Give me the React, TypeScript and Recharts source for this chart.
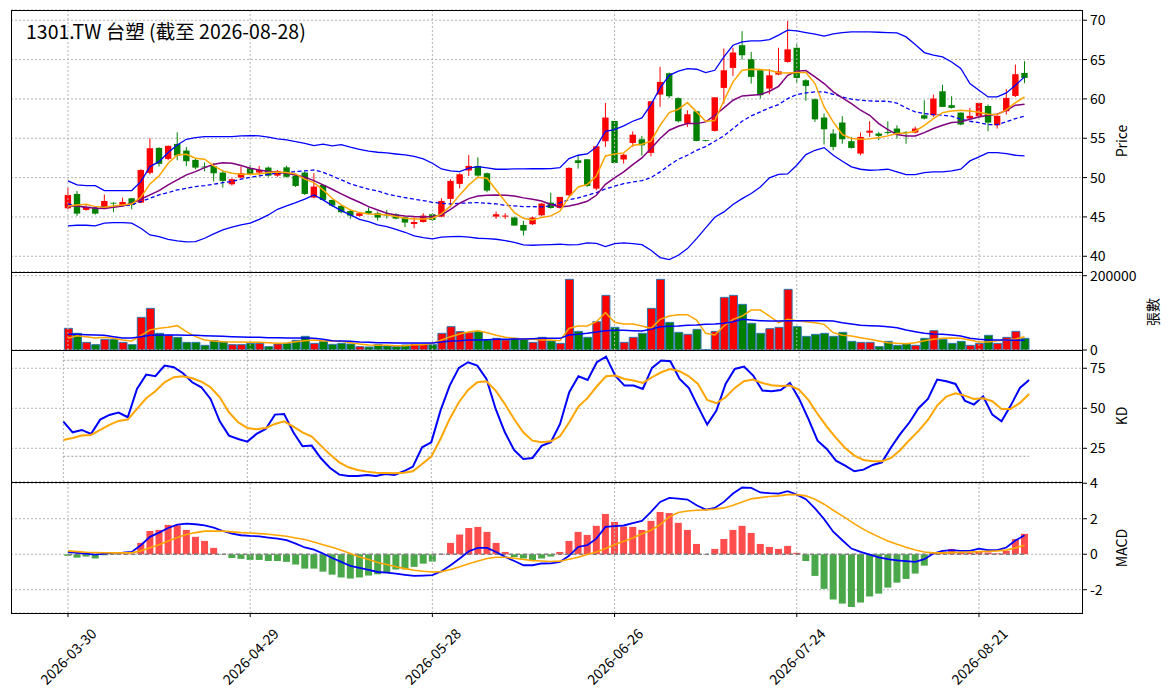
import { ComposedChart, Bar, Line, XAxis, YAxis, CartesianGrid, ReferenceLine, Cell } from "recharts";

// trading days (TWSE calendar, holidays skipped)
const dates = [
  "2026-03-30", "2026-03-31", "2026-04-01", "2026-04-02", "2026-04-07", "2026-04-08", "2026-04-09", "2026-04-10",
  "2026-04-13", "2026-04-14", "2026-04-15", "2026-04-16", "2026-04-17", "2026-04-20", "2026-04-21", "2026-04-22",
  "2026-04-23", "2026-04-24", "2026-04-27", "2026-04-28", "2026-04-29", "2026-04-30", "2026-05-04", "2026-05-05",
  "2026-05-06", "2026-05-07", "2026-05-08", "2026-05-11", "2026-05-12", "2026-05-13", "2026-05-14", "2026-05-15",
  "2026-05-18", "2026-05-19", "2026-05-20", "2026-05-21", "2026-05-22", "2026-05-25", "2026-05-26", "2026-05-27",
  "2026-05-28", "2026-05-29", "2026-06-01", "2026-06-02", "2026-06-03", "2026-06-04", "2026-06-05", "2026-06-08",
  "2026-06-09", "2026-06-10", "2026-06-11", "2026-06-12", "2026-06-15", "2026-06-16", "2026-06-17", "2026-06-18",
  "2026-06-22", "2026-06-23", "2026-06-24", "2026-06-25", "2026-06-26", "2026-06-29", "2026-06-30", "2026-07-01",
  "2026-07-02", "2026-07-03", "2026-07-06", "2026-07-07", "2026-07-08", "2026-07-09", "2026-07-10", "2026-07-13",
  "2026-07-14", "2026-07-15", "2026-07-16", "2026-07-17", "2026-07-20", "2026-07-21", "2026-07-22", "2026-07-23",
  "2026-07-24", "2026-07-27", "2026-07-28", "2026-07-29", "2026-07-30", "2026-07-31", "2026-08-03", "2026-08-04",
  "2026-08-05", "2026-08-06", "2026-08-07", "2026-08-10", "2026-08-11", "2026-08-12", "2026-08-13", "2026-08-14",
  "2026-08-17", "2026-08-18", "2026-08-19", "2026-08-20", "2026-08-21", "2026-08-24", "2026-08-25", "2026-08-26",
  "2026-08-27", "2026-08-28",
];

const opens = [
  46.1, 47.92, 45.89, 46.1, 46.1, 46.8, 46.48, 47.37, 46.82, 50.6,
  53.77, 52.37, 54.28, 53.43, 52.25, 51.4, 51.48, 50.64, 49.15, 50.0,
  51.19, 50.64, 51.27, 50.25, 51.3, 50.25, 50.64, 47.46, 49.07, 47.16,
  46.4, 45.76, 45.13, 45.76, 45.47, 45.3, 45.34, 44.96, 44.1, 44.36,
  45.34, 45.04, 47.29, 49.2, 50.9, 51.48, 50.55, 45.04, 45.04, 44.92,
  43.98, 44.07, 45.21, 46.82, 46.14, 47.75, 52.2, 52.33, 48.6, 54.62,
  57.2, 52.3, 54.4, 54.87, 53.14, 60.55, 63.26, 60.1, 56.86, 58.43,
  54.75, 55.93, 61.4, 63.94, 66.82, 65.04, 63.64, 61.31, 63.1, 64.7,
  66.5, 62.37, 59.96, 57.63, 55.6, 57.0, 54.62, 53.05, 55.7, 55.6,
  55.8, 56.23, 55.8, 55.72, 57.92, 57.92, 60.97, 59.2, 58.26, 57.5,
  57.8, 59.1, 56.65, 58.43, 60.38, 63.3,
];
const highs = [
  48.73, 48.3, 46.53, 46.3, 47.84, 46.85, 47.45, 47.4, 51.06, 55.0,
  53.86, 54.1, 55.76, 53.9, 52.46, 51.9, 51.82, 50.97, 49.9, 51.4,
  51.6, 51.48, 51.4, 50.97, 51.5, 50.3, 50.76, 50.55, 49.07, 47.2,
  46.5, 45.97, 45.55, 46.2, 45.68, 45.9, 45.47, 45.04, 45.04, 45.47,
  45.47, 47.37, 49.79, 50.55, 52.88, 52.58, 50.64, 45.68, 45.47, 45.04,
  44.5, 45.04, 46.78, 48.09, 47.54, 51.3, 52.84, 52.33, 53.98, 59.49,
  57.2, 53.05, 55.87, 55.3, 59.7, 64.07, 63.35, 60.2, 58.56, 58.43,
  54.8, 60.2, 66.4, 66.5, 68.6, 65.97, 63.64, 63.77, 66.5, 69.9,
  66.95, 62.5, 60.04, 58.14, 56.14, 57.8, 55.17, 55.72, 57.16, 55.8,
  57.16, 56.65, 55.9, 56.48, 59.83, 60.55, 61.8, 60.34, 58.26, 58.86,
  59.49, 59.28, 57.92, 61.23, 64.36, 64.8,
];
const lows = [
  45.97, 45.13, 45.8, 45.3, 45.97, 45.6, 46.4, 45.97, 46.74, 50.4,
  51.4, 52.2, 52.2, 51.44, 51.06, 50.8, 49.5, 48.73, 48.99, 49.9,
  50.34, 50.34, 50.1, 50.1, 50.0, 48.8, 47.8, 47.37, 47.08, 46.3,
  45.47, 44.75, 45.04, 45.3, 44.53, 44.8, 44.7, 43.69, 43.56, 44.28,
  44.5, 44.96, 46.23, 48.64, 50.2, 50.1, 48.14, 44.75, 44.75, 43.9,
  42.63, 43.98, 45.08, 46.06, 46.06, 47.67, 51.14, 48.81, 48.39, 53.9,
  51.78, 51.78, 53.9, 52.8, 52.7, 58.98, 60.1, 57.0, 56.44, 54.62,
  54.6, 55.85, 59.4, 62.9, 65.0, 61.95, 60.04, 60.6, 63.0, 64.6,
  62.03, 59.75, 57.08, 54.2, 53.47, 54.3, 53.69, 52.84, 55.17, 54.75,
  55.47, 54.96, 54.3, 55.6, 57.4, 57.7, 58.98, 58.77, 56.65, 57.29,
  57.7, 55.9, 56.23, 58.0, 60.25, 62.0,
];
const closes = [
  47.8, 45.42, 46.23, 45.42, 47.03, 46.7, 46.9, 46.53, 50.97, 53.73,
  51.74, 54.03, 52.8, 52.08, 51.27, 51.3, 50.55, 49.58, 49.79, 50.55,
  50.47, 50.97, 50.25, 50.85, 50.1, 48.94, 47.92, 48.86, 47.16, 46.44,
  45.6, 45.17, 45.47, 45.42, 44.92, 45.2, 44.79, 44.28, 44.36, 45.17,
  44.62, 47.03, 49.58, 50.42, 51.48, 50.25, 48.35, 45.34, 45.17, 43.9,
  43.26, 44.92, 46.69, 46.14, 47.54, 51.23, 51.86, 48.94, 53.98, 57.63,
  51.86, 52.9, 55.45, 54.11, 59.7, 62.16, 60.34, 57.16, 58.05, 54.66,
  54.66, 60.2, 63.64, 65.9, 65.55, 62.8, 60.47, 63.0, 63.5, 66.3,
  62.67, 61.65, 57.4, 56.14, 53.9, 54.87, 53.77, 55.17, 55.97, 55.3,
  55.68, 55.6, 55.72, 56.23, 57.5, 60.04, 58.98, 58.86, 56.74, 57.84,
  59.49, 56.99, 57.84, 60.13, 63.14, 62.67,
];

const ma5 = [
  46.4, 46.53, 46.61, 46.31, 46.23, 46.4, 46.53, 46.65, 47.5, 49.2,
  50.21, 51.82, 52.88, 52.97, 52.46, 52.33, 51.48, 50.85, 50.55, 50.42,
  50.42, 50.47, 50.64, 50.72, 50.64, 50.47, 49.8, 49.36, 48.43, 47.37,
  46.53, 45.89, 45.55, 45.38, 45.34, 45.25, 45.04, 44.83, 44.75, 44.75,
  44.83, 45.38, 46.4, 47.8, 49.07, 50.04, 49.92, 48.43, 46.95, 45.55,
  44.83, 44.62, 44.94, 45.13, 45.72, 47.54, 48.81, 49.11, 50.21, 52.75,
  53.0, 53.14, 54.11, 54.24, 54.62, 56.65, 58.26, 58.69, 59.53, 58.35,
  57.16, 57.25, 59.79, 62.16, 63.64, 63.77, 63.73, 63.64, 63.33, 63.3,
  63.35, 63.35, 61.95, 58.98, 57.08, 55.47, 54.96, 54.87, 54.92, 55.08,
  55.3, 55.59, 55.68, 55.89, 56.65, 57.5, 58.26, 58.47, 58.56, 58.47,
  58.3, 58.05, 58.01, 58.6, 59.53, 60.25,
];
const ma10 = [
  46.4, 46.4, 46.23, 46.1, 46.06, 46.23, 46.4, 46.74, 47.25, 47.8,
  48.35, 49.07, 49.7, 50.34, 50.76, 51.27, 51.7, 51.9, 51.82, 51.53,
  51.19, 50.97, 50.76, 50.68, 50.55, 50.34, 50.04, 49.62, 49.07, 48.52,
  47.92, 47.37, 46.86, 46.31, 45.89, 45.47, 45.25, 45.13, 45.04, 45.0,
  45.04, 45.25, 45.97, 46.74, 47.33, 47.67, 47.75, 47.8, 47.75, 47.67,
  47.42, 47.25, 47.03, 46.57, 46.27, 46.4, 46.65, 46.99, 47.75, 49.15,
  49.96, 50.72, 51.65, 52.5, 53.69, 54.96, 56.02, 56.53, 56.86, 56.86,
  57.08, 57.92, 58.86, 59.83, 60.38, 60.47, 60.55, 60.97, 61.6, 63.0,
  63.52, 63.6, 62.8, 61.95, 60.89, 60.13, 59.41, 58.56, 57.92, 56.86,
  56.1, 55.47, 55.3, 55.3, 55.72, 56.23, 56.65, 56.99, 57.08, 57.42,
  57.71, 57.92, 58.05, 58.56, 59.2, 59.32,
];
const ma20 = [
  46.65, 46.4, 46.23, 46.19, 46.31, 46.31, 46.4, 46.53, 46.95, 47.37,
  47.8, 48.09, 48.43, 48.64, 48.86, 48.98, 49.15, 49.36, 49.49, 49.79,
  50.04, 50.21, 50.42, 50.55, 50.64, 50.76, 50.85, 50.97, 50.68, 50.21,
  49.7, 49.2, 48.86, 48.52, 48.31, 47.92, 47.67, 47.46, 47.25, 47.08,
  46.86, 46.74, 46.65, 46.74, 46.78, 46.82, 46.74, 46.65, 46.48, 46.4,
  46.31, 46.31, 46.27, 46.4, 46.78, 47.2, 47.42, 47.75, 48.09, 48.56,
  48.9, 49.24, 49.45, 49.62, 50.0, 50.72, 51.57, 52.33, 52.84, 53.47,
  53.94, 54.62, 55.3, 56.23, 57.16, 57.84, 58.35, 58.86, 59.28, 60.04,
  60.55, 60.76, 60.89, 60.89, 60.59, 60.25, 59.96, 59.83, 59.75, 59.7,
  59.7, 59.45, 58.86, 58.35, 58.14, 58.01, 57.92, 57.8, 57.42, 57.16,
  56.99, 56.74, 56.74, 57.08, 57.5, 57.8,
];
const bbUpper = [
  49.58, 49.07, 48.98, 48.98, 48.35, 48.35, 48.35, 48.35, 49.49, 51.4,
  52.03, 53.18, 54.15, 54.87, 55.08, 55.21, 55.21, 55.21, 55.21, 55.3,
  55.34, 55.3, 55.13, 54.92, 54.79, 54.58, 54.36, 54.07, 54.24, 54.03,
  54.2, 53.86, 53.6, 53.35, 53.22, 53.14, 53.0, 52.88, 52.71, 52.37,
  51.82, 51.1, 50.85, 50.76, 51.19, 51.4, 51.23, 51.06, 51.06, 51.1,
  51.1, 51.14, 51.12, 51.14, 51.27, 52.42, 52.84, 53.0, 53.9, 55.89,
  56.1, 56.57, 57.16, 57.58, 59.28, 61.4, 63.0, 63.52, 63.86, 63.77,
  63.35, 63.64, 65.34, 66.82, 67.25, 67.37, 67.37, 67.54, 68.1, 68.73,
  68.64, 68.43, 68.22, 67.97, 68.26, 68.43, 68.52, 68.52, 68.52, 68.47,
  68.43, 68.39, 67.88, 66.91, 65.89, 65.55, 65.34, 64.7, 63.86, 61.95,
  61.1, 60.25, 60.25, 60.76, 61.74, 62.8,
];
const bbLower = [
  43.86, 43.94, 43.94, 43.86, 44.2, 44.28, 44.28, 44.2, 43.56, 42.71,
  42.5, 42.16, 41.95, 41.82, 41.86, 42.29, 42.84, 43.35, 43.69, 43.98,
  44.2, 44.7, 45.25, 45.97, 46.4, 46.82, 47.27, 47.8, 47.16, 46.44,
  45.8, 45.25, 44.7, 44.4, 43.98, 43.77, 43.43, 43.05, 42.58, 42.37,
  42.2, 42.42, 42.5, 42.54, 42.42, 42.29, 42.25, 42.16, 41.99, 41.78,
  41.44, 41.4, 41.44, 41.48, 41.53, 41.44, 41.48, 41.69, 41.65, 41.23,
  41.6, 41.69, 41.6, 41.48, 40.76, 39.83, 39.58, 40.13, 40.97, 42.25,
  43.6, 44.96, 45.64, 46.57, 47.33, 47.97, 48.81, 49.96, 50.42, 50.47,
  51.57, 52.92, 53.47, 53.81, 52.84, 52.08, 51.36, 51.06, 50.93, 50.97,
  51.06, 50.72, 50.38, 50.38, 50.64, 50.72, 50.72, 50.85, 51.06, 52.12,
  52.63, 53.18, 53.18, 53.05, 52.84, 52.75,
];

// 張數
const volumes = [
  58300, 44850, 20600, 14350, 28700, 28700, 20600, 14350, 87900, 112100,
  44850, 39500, 34100, 20600, 20600, 12550, 25100, 21500, 14350, 14350,
  17900, 17900, 9000, 16150, 17900, 26000, 36800, 17900, 23300, 15250,
  17900, 16150, 9000, 8100, 14350, 10750, 9000, 13450, 16150, 16150,
  14350, 44850, 62800, 49300, 46600, 49300, 26900, 31400, 26900, 31400,
  28700, 20600, 34100, 24200, 17900, 190200, 50200, 34100, 76200, 147100,
  61000, 20600, 34100, 44850, 112100, 190200, 74400, 47500, 42150, 55600,
  1500, 50200, 141700, 147100, 122900, 71800, 44850, 57400, 61000, 163300,
  62800, 36800, 42150, 44850, 36800, 47500, 23300, 20600, 20600, 9000,
  23300, 12550, 16150, 12550, 31400, 52000, 28700, 17900, 23300, 12550,
  17900, 39500, 17900, 34100, 50200, 31400,
];
const volMa5 = [
  31400, 38570, 35900, 32300, 34100, 31400, 26900, 24200, 38570, 53800,
  58300, 61000, 65500, 49300, 35900, 26900, 24200, 22400, 21500, 21500,
  20600, 20600, 19700, 17900, 18800, 22400, 25100, 26900, 24200, 24200,
  23300, 19700, 16150, 13450, 12550, 12550, 11650, 11650, 14350, 14350,
  17900, 26900, 35900, 43050, 48400, 52000, 46600, 39500, 34100, 31400,
  28700, 28700, 26900, 26900, 25100, 58300, 64600, 64600, 76200, 100500,
  74400, 70000, 70000, 64600, 58300, 82500, 91500, 95100, 95100, 80700,
  44850, 40350, 64600, 82500, 91500, 107600, 107600, 91500, 73600, 82500,
  78900, 76200, 73600, 69100, 46600, 39500, 37700, 33200, 28700, 24200,
  19700, 17900, 17000, 19700, 25100, 28700, 31400, 32300, 31400, 26900,
  21500, 21500, 25100, 26900, 29600, 35900,
];
const volMa20 = [
  42150, 42150, 41250, 40350, 39500, 35900, 32300, 32300, 35900, 39500,
  40350, 40350, 40350, 39500, 39500, 38600, 37700, 36800, 35900, 35000,
  34100, 34100, 33200, 33200, 32300, 32300, 32300, 31400, 28700, 25100,
  24200, 23300, 21500, 20600, 19700, 19700, 18850, 18850, 18850, 18850,
  18850, 21500, 24200, 25100, 26900, 26900, 27800, 28700, 28700, 29600,
  29600, 30500, 31400, 31400, 31400, 40350, 42150, 44850, 48400, 52000,
  52900, 52900, 52000, 51100, 55600, 62800, 63700, 64600, 66400, 67300,
  69100, 70000, 71800, 76200, 82500, 80700, 78900, 78000, 78000, 78900,
  78900, 78900, 78900, 78900, 78000, 73600, 70000, 66400, 65500, 64600,
  62800, 60100, 53800, 49300, 44850, 43050, 42150, 40350, 37700, 31400,
  28700, 26900, 26900, 26900, 26000, 26000,
];

const kValues = [
  41.67, 35.0, 36.46, 33.96, 42.92, 45.83, 47.29, 44.38, 62.08, 71.04,
  70.0, 76.67, 75.63, 71.88, 66.25, 63.13, 55.83, 41.88, 32.92, 30.83,
  29.17, 33.96, 37.08, 46.04, 46.46, 35.0, 26.25, 26.67, 18.75, 12.71,
  8.54, 7.71, 7.71, 8.33, 7.71, 8.96, 8.33, 10.63, 13.54, 25.63,
  28.75, 48.54, 64.17, 75.21, 78.75, 76.67, 68.33, 49.58, 35.0, 23.96,
  18.33, 18.96, 26.5, 28.75, 40.21, 60.0, 70.0, 67.71, 78.75, 82.29,
  70.42, 64.17, 64.17, 62.08, 75.21, 79.79, 79.38, 68.33, 62.71, 51.04,
  39.79, 48.54, 65.21, 74.58, 76.04, 70.42, 61.04, 60.63, 61.46, 65.83,
  55.83, 43.33, 29.79, 24.58, 17.29, 14.17, 10.63, 11.67, 14.58, 16.25,
  25.63, 33.96, 41.25, 50.21, 55.83, 67.92, 66.88, 65.21, 54.79, 52.29,
  57.5, 46.04, 41.88, 51.67, 62.71, 67.71,
];
const dValues = [
  30.21, 31.46, 32.92, 33.33, 36.46, 39.58, 42.08, 42.92, 49.58, 56.25,
  60.63, 66.25, 69.38, 70.0, 68.75, 66.67, 63.13, 56.88, 47.5, 41.25,
  37.71, 36.88, 37.71, 40.21, 41.88, 38.54, 35.0, 32.29, 26.67, 21.04,
  16.25, 13.13, 11.46, 10.42, 9.79, 9.58, 9.38, 9.79, 10.63, 15.21,
  19.79, 30.83, 43.33, 53.75, 61.46, 66.25, 66.88, 61.04, 52.71, 43.33,
  35.0, 29.79, 28.75, 29.38, 32.5, 41.25, 51.04, 56.46, 63.75, 70.0,
  70.42, 68.33, 67.29, 65.83, 69.38, 72.5, 74.58, 73.13, 70.0, 65.21,
  55.21, 53.13, 56.88, 62.71, 66.88, 67.92, 65.83, 64.38, 63.96, 64.17,
  61.46, 55.21, 46.46, 38.54, 31.46, 25.21, 20.42, 17.71, 16.88, 16.88,
  18.96, 23.96, 30.21, 36.04, 42.71, 51.67, 57.29, 59.38, 57.92, 55.83,
  56.25, 54.38, 49.58, 49.58, 53.33, 58.96,
];

const difValues = [
  0.13, 0.08, 0.04, -0.02, 0.04, 0.08, 0.09, 0.13, 0.51, 0.98,
  1.22, 1.48, 1.67, 1.73, 1.69, 1.63, 1.5, 1.31, 1.16, 1.07,
  1.03, 1.01, 0.94, 0.88, 0.79, 0.6, 0.38, 0.26, 0.04, -0.21,
  -0.43, -0.66, -0.77, -0.88, -1.0, -1.03, -1.09, -1.16, -1.22, -1.2,
  -1.18, -0.96, -0.62, -0.24, 0.17, 0.36, 0.36, 0.13, -0.15, -0.38,
  -0.62, -0.62, -0.52, -0.51, -0.43, -0.09, 0.41, 0.51, 0.88, 1.54,
  1.58, 1.62, 1.75, 1.88, 2.39, 2.95, 3.17, 3.13, 3.08, 2.76,
  2.52, 2.61, 2.95, 3.42, 3.76, 3.74, 3.48, 3.44, 3.42, 3.55,
  3.36, 3.1, 2.58, 1.98, 1.27, 0.79, 0.32, 0.13, -0.02, -0.17,
  -0.28, -0.34, -0.39, -0.43, -0.28, 0.04, 0.19, 0.23, 0.19, 0.19,
  0.32, 0.23, 0.23, 0.38, 0.77, 1.07,
];
const deaValues = [
  0.19, 0.15, 0.11, 0.09, 0.08, 0.08, 0.08, 0.08, 0.19, 0.36,
  0.54, 0.75, 0.94, 1.11, 1.22, 1.3, 1.31, 1.3, 1.26, 1.22,
  1.2, 1.16, 1.13, 1.07, 1.01, 0.92, 0.83, 0.69, 0.54, 0.39,
  0.23, 0.04, -0.15, -0.3, -0.47, -0.58, -0.7, -0.81, -0.9, -0.96,
  -1.0, -0.98, -0.86, -0.71, -0.53, -0.38, -0.24, -0.17, -0.17, -0.23,
  -0.3, -0.36, -0.38, -0.41, -0.39, -0.28, -0.17, -0.02, 0.13, 0.32,
  0.54, 0.73, 0.92, 1.15, 1.35, 1.67, 2.1, 2.35, 2.44, 2.48,
  2.5, 2.54, 2.61, 2.76, 2.95, 3.12, 3.19, 3.25, 3.29, 3.36,
  3.36, 3.29, 3.1, 2.82, 2.48, 2.16, 1.82, 1.5, 1.22, 0.98,
  0.75, 0.56, 0.39, 0.24, 0.13, 0.08, 0.08, 0.09, 0.11, 0.13,
  0.15, 0.17, 0.19, 0.24, 0.36, 0.51,
];
const histValues = [
  -0.09, -0.19, -0.13, -0.24, -0.06, -0.02, 0.02, 0.03, 0.64, 1.31,
  1.37, 1.65, 1.63, 1.37, 0.98, 0.75, 0.36, -0.02, -0.21, -0.26,
  -0.32, -0.32, -0.38, -0.38, -0.43, -0.58, -0.81, -0.81, -0.98, -1.15,
  -1.31, -1.37, -1.31, -1.2, -1.13, -1.0, -0.86, -0.85, -0.71, -0.53,
  -0.41, 0.02, 0.64, 1.11, 1.48, 1.54, 1.26, 0.64, 0.13, -0.15,
  -0.24, -0.34, -0.24, -0.13, 0.13, 0.75, 1.26, 1.09, 1.6, 2.27,
  1.82, 1.56, 1.54, 1.37, 1.88, 2.38, 2.32, 1.77, 1.37, 0.58,
  0.0, 0.3, 0.86, 1.37, 1.6, 1.2, 0.58, 0.41, 0.3, 0.47,
  0.08, -0.38, -1.22, -1.95, -2.55, -2.78, -2.97, -2.72, -2.38, -2.22,
  -1.88, -1.6, -1.39, -1.09, -0.64, 0.05, 0.15, 0.3, 0.12, 0.1,
  0.18, 0.1, 0.05, 0.2, 0.85, 1.15,
];

const priceTicks = [40, 45, 50, 55, 60, 65, 70];
const volumeTicks = [0, 200000];
const kdTicks = [25, 50, 75];
const macdTicks = [-2, 0, 2, 4];
const gridDateIdx = [0, 20, 40, 60, 80, 100];

const UP = "#ff0000";
const DOWN = "#008000";
const GRID = "#b4b4b4";
const FONT = "'Noto Sans CJK TC', 'Noto Sans', sans-serif";

const rows = dates.map((date, i) => ({
  date,
  open: opens[i],
  high: highs[i],
  low: lows[i],
  close: closes[i],
  range: [lows[i], highs[i]],
  ma5: ma5[i],
  ma10: ma10[i],
  ma20: ma20[i],
  upper: bbUpper[i],
  lower: bbLower[i],
  vol: volumes[i],
  volMa5: volMa5[i],
  volMa20: volMa20[i],
  k: kValues[i],
  d: dValues[i],
  dif: difValues[i],
  dea: deaValues[i],
  hist: histValues[i],
}));

// candle drawn from the [low, high] bar the library positions
function Candle(props: any) {
  const { x, y, width, height, payload } = props;
  const { open, close, high, low } = payload;
  const cx = x + width / 2;
  const span = high - low || 1;
  const py = (v: number) => y + ((high - v) / span) * height;
  const color = close >= open ? UP : DOWN;
  const top = py(Math.max(open, close));
  const bot = py(Math.min(open, close));
  return (
    <g>
      <line x1={cx} x2={cx} y1={y} y2={y + height} stroke={color} strokeWidth={1} />
      <rect x={cx - 3.2} y={top} width={6.4} height={Math.max(bot - top, 0.8)} fill={color} />
    </g>
  );
}

function DateTick(props: any) {
  const { x, y, payload } = props;
  const ty = y + 37;
  return (
    <text x={x} y={ty} transform={`rotate(-45 ${x} ${ty})`} textAnchor="middle"
      dominantBaseline="central" fontSize={14} fill="#000" fontFamily={FONT}>
      {payload.value}
    </text>
  );
}

const chartMargin = { top: 10, right: 9, left: 11, bottom: 10 };
const xPad = { left: 52.4, right: 53.9 };

function sharedX(show: boolean) {
  return (
    <XAxis dataKey="date" padding={xPad} interval={19} hide={!show} height={80}
      tick={<DateTick />} tickSize={4} tickMargin={2} axisLine={false}
      tickLine={{ stroke: "#000" }} />
  );
}

function yAxis(domain: number[], ticks: number[]) {
  return (
    <YAxis orientation="right" width={80} domain={domain} ticks={ticks} allowDataOverflow
      axisLine={false} tickSize={4} tickMargin={3} tickLine={{ stroke: "#000" }}
      tick={{ fontSize: 14, fill: "#000", fontFamily: FONT }} interval={0} />
  );
}

function grid() {
  return [
    <CartesianGrid key="g" vertical={false} stroke={GRID} strokeDasharray="2 2" />,
    ...gridDateIdx.map((i) => (
      <ReferenceLine key={`v${i}`} x={dates[i]} stroke={GRID} strokeDasharray="2 2" />
    )),
  ];
}

function Frame({ top, height }: { top: number; height: number }) {
  return (
    <div style={{ position: "absolute", left: 11, top, width: 1072, height,
      border: "1px solid #000", boxSizing: "border-box", pointerEvents: "none" }} />
  );
}

function VLabel({ x, y, text }: { x: number; y: number; text: string }) {
  return (
    <div style={{ position: "absolute", left: x, top: y, transform: "translate(-50%, -50%) rotate(-90deg)",
      fontSize: 14, whiteSpace: "nowrap", lineHeight: "16px" }}>
      {text}
    </div>
  );
}

export default function App() {
  const last = dates[dates.length - 1];
  return (
    <div style={{ position: "absolute", left: 0, top: 0, width: 1172, height: 698, background: "#fff",
      fontFamily: FONT, color: "#000" }}>
      {/* price + bollinger */}
      <div style={{ position: "absolute", left: 0, top: 0 }}>
        <ComposedChart width={1172} height={282} data={rows} margin={chartMargin}>
          {grid()}
          {sharedX(false)}
          {yAxis([38.0, 71.3], priceTicks)}
          <Bar dataKey="range" barSize={7} shape={<Candle />} isAnimationActive={false} />
          <Line dataKey="upper" stroke="#0000ff" strokeWidth={1.3} dot={false} isAnimationActive={false} />
          <Line dataKey="lower" stroke="#0000ff" strokeWidth={1.3} dot={false} isAnimationActive={false} />
          <Line dataKey="ma20" stroke="#0000ff" strokeWidth={1.3} strokeDasharray="4 2.5" dot={false} isAnimationActive={false} />
          <Line dataKey="ma10" stroke="#800080" strokeWidth={1.5} dot={false} isAnimationActive={false} />
          <Line dataKey="ma5" stroke="#ffa500" strokeWidth={1.5} dot={false} isAnimationActive={false} />
        </ComposedChart>
      </div>
      {/* volume */}
      <div style={{ position: "absolute", left: 0, top: 262 }}>
        <ComposedChart width={1172} height={98} data={rows} margin={chartMargin}>
          {grid()}
          {sharedX(false)}
          {yAxis([0, 209960], volumeTicks)}
          <Bar dataKey="vol" barSize={8} stroke="#2e75b0" strokeWidth={1} isAnimationActive={false}>
            {rows.map((r, i) => (
              <Cell key={i} fill={r.close >= r.open ? UP : DOWN} />
            ))}
          </Bar>
          <Line dataKey="volMa5" stroke="#ffa500" strokeWidth={1.5} dot={false} isAnimationActive={false} />
          <Line dataKey="volMa20" stroke="#0000ff" strokeWidth={1.5} dot={false} isAnimationActive={false} />
        </ComposedChart>
      </div>
      {/* KD */}
      <div style={{ position: "absolute", left: 0, top: 340 }}>
        <ComposedChart width={1172} height={152} data={rows} margin={chartMargin}>
          {grid()}
          {sharedX(false)}
          {yAxis([3.94, 86.4], kdTicks)}
          <ReferenceLine segment={[{ x: dates[0], y: 80 }, { x: last, y: 80 }]} stroke="#999" strokeDasharray="2 2" />
          <ReferenceLine segment={[{ x: dates[0], y: 20 }, { x: last, y: 20 }]} stroke="#999" strokeDasharray="2 2" />
          <Line dataKey="k" stroke="#0000ff" strokeWidth={2} dot={false} isAnimationActive={false} />
          <Line dataKey="d" stroke="#ffa500" strokeWidth={2} dot={false} isAnimationActive={false} />
        </ComposedChart>
      </div>
      {/* MACD */}
      <div style={{ position: "absolute", left: 0, top: 472 }}>
        <ComposedChart width={1172} height={226} data={rows} margin={{ ...chartMargin, bottom: 5 }}>
          {grid()}
          {sharedX(true)}
          {yAxis([-3.31, 4.07], macdTicks)}
          <ReferenceLine segment={[{ x: dates[0], y: 0 }, { x: last, y: 0 }]} stroke="#808080" strokeWidth={1.3} strokeDasharray="4 3" />
          <Bar dataKey="hist" barSize={7} isAnimationActive={false}>
            {rows.map((r, i) => (
              <Cell key={i} fill={r.hist >= 0 ? "#ff4c4c" : "#4aa84a"} />
            ))}
          </Bar>
          <Line dataKey="dif" stroke="#0000ff" strokeWidth={1.8} dot={false} isAnimationActive={false} />
          <Line dataKey="dea" stroke="#ffa500" strokeWidth={1.6} dot={false} isAnimationActive={false} />
        </ComposedChart>
      </div>

      <Frame top={10} height={263} />
      <Frame top={272} height={79} />
      <Frame top={350} height={133} />
      <Frame top={482} height={132} />

      <div style={{ position: "absolute", left: 26, top: 19, fontSize: 19.5, lineHeight: "24px", whiteSpace: "nowrap" }}>
        1301.TW 台塑 (截至 2026-08-28)
      </div>
      <VLabel x={1121} y={141} text="Price" />
      <VLabel x={1152} y={312} text="張數" />
      <VLabel x={1121} y={416} text="KD" />
      <VLabel x={1121} y={548} text="MACD" />
    </div>
  );
}
